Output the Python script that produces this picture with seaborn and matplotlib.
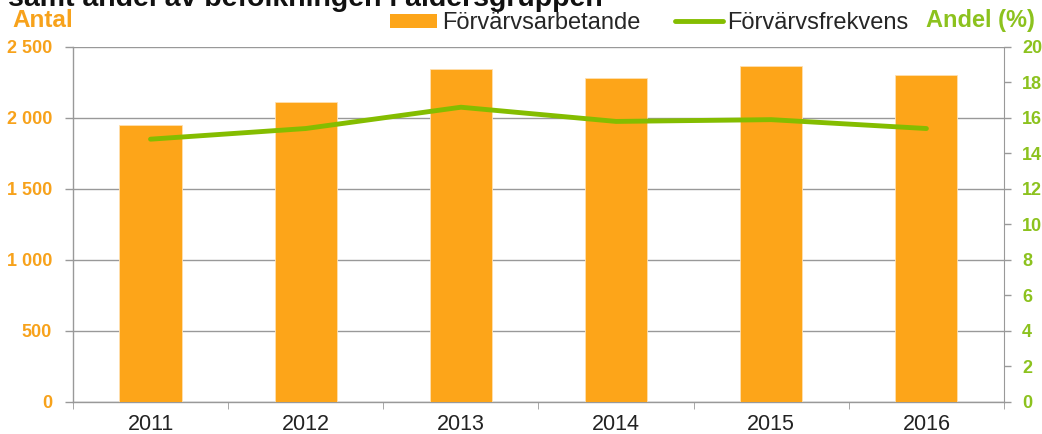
import numpy as np
import pandas as pd
import matplotlib.pyplot as plt
import matplotlib.ticker as mticker
from matplotlib.patches import Patch
from matplotlib.lines import Line2D
import seaborn as sns

sns.set_style("white")
plt.rcParams["font.family"] = ["Liberation Sans", "DejaVu Sans"]

ORANGE = "#FDA519"
ORANGE_TXT = "#F7A21B"
GREEN = "#84BD00"
GREEN_TXT = "#8CC21E"
GRID = "#999999"

years = ["2011", "2012", "2013", "2014", "2015", "2016"]
antal = [1950, 2115, 2345, 2280, 2365, 2300]
andel = [14.8, 15.4, 16.6, 15.8, 15.9, 15.4]

df = pd.DataFrame({"year": years, "antal": antal, "andel": andel})

fig = plt.figure(figsize=(10.42, 4.34), dpi=100)
ax = fig.add_axes([0.070, 0.074, 0.8935, 0.818])

sns.barplot(data=df, x="year", y="antal", color=ORANGE, saturation=1,
            width=0.4, ax=ax, zorder=3, edgecolor="#FFE0B0", linewidth=0.6)
ax.set_ylim(0, 2500)
ax.set_xlim(-0.5, len(years) - 0.5)
ax.yaxis.set_major_locator(mticker.MultipleLocator(500))
ax.yaxis.set_major_formatter(mticker.FuncFormatter(lambda v, p: f"{int(v):,}".replace(",", " ")))
ax.grid(axis="y", color=GRID, linewidth=1, zorder=0)
ax.set_axisbelow(True)
ax.set_xlabel("")
ax.set_ylabel("")

for s in ["top", "right"]:
    ax.spines[s].set_visible(False)
for s in ["left", "bottom"]:
    ax.spines[s].set_color(GRID)
    ax.spines[s].set_linewidth(1)

ax.tick_params(axis="y", colors=GRID, labelcolor=ORANGE_TXT, labelsize=13,
               length=6, width=1, direction="out", left=True, pad=9)
for t in ax.get_yticklabels():
    t.set_fontweight("bold")
ax.tick_params(axis="x", which="major", length=0, labelsize=15.5, labelcolor="#222222", pad=9)
ax.xaxis.set_minor_locator(mticker.FixedLocator(np.arange(-0.5, len(years), 1.0)))
ax.tick_params(axis="x", which="minor", length=5, color=GRID, bottom=True)

ax2 = ax.twinx()
sns.lineplot(data=df, x="year", y="andel", color=GREEN, linewidth=3.5,
             ax=ax2, zorder=4, sort=False)
ax2.set_ylim(0, 20)
ax2.yaxis.set_major_locator(mticker.MultipleLocator(2))
ax2.set_ylabel("")
ax2.set_xlabel("")
for s in ["top", "left", "bottom"]:
    ax2.spines[s].set_visible(False)
ax2.spines["right"].set_color(GRID)
ax2.tick_params(axis="y", colors=GRID, labelcolor=GREEN_TXT, labelsize=13,
                length=5, width=1, direction="out", right=True, pad=8)
for t in ax2.get_yticklabels():
    t.set_fontweight("bold")
ax2.grid(False)

# rubriken är avskuren i originalet
fig.text(0.008, 0.986, "samt andel av befolkningen i åldersgruppen",
         fontsize=20.5, fontweight="bold", color="#111111", va="baseline", ha="left")
fig.text(0.012, 0.952, "Antal", fontsize=17.5, fontweight="bold", color=ORANGE_TXT,
         va="center", ha="left")
fig.text(0.9935, 0.952, "Andel (%)", fontsize=17, fontweight="bold", color=GREEN_TXT,
         va="center", ha="right")

handles = [Patch(facecolor=ORANGE, edgecolor="none"),
           Line2D([0], [0], color=GREEN, linewidth=3.5)]
fig.legend(handles, ["Förvärvsarbetande", "Förvärvsfrekvens"], loc="center",
           bbox_to_anchor=(0.623, 0.947), ncol=2, frameon=False, fontsize=17,
           handlelength=2.0, handleheight=0.55, handletextpad=0.2, columnspacing=1.5,
           borderaxespad=0, borderpad=0)

fig.savefig("out.png", dpi=100)
